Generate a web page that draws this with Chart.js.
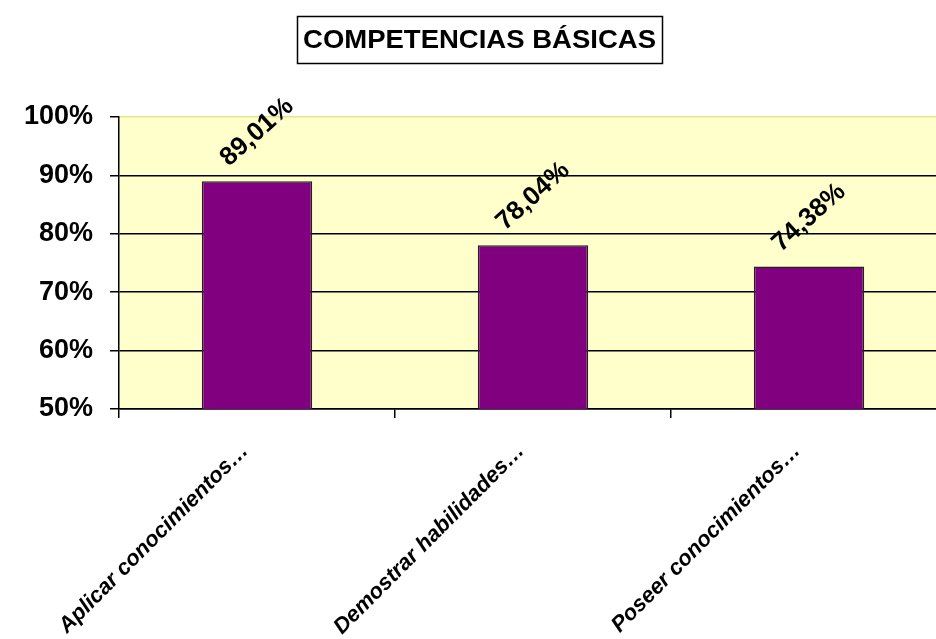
<!DOCTYPE html>
<html>
<head>
<meta charset="utf-8">
<title>Competencias básicas</title>
<script src="https://cdn.jsdelivr.net/npm/chart.js@4.4.0/dist/chart.umd.min.js"></script>
<style>
  html, body { margin: 0; padding: 0; background: #fff; overflow: hidden; width: 936px; height: 639px; }
  #wrap { position: relative; width: 947px; height: 639px; }
</style>
</head>
<body>
<div id="wrap"><canvas id="grafico" width="947" height="639"></canvas></div>
<script>
// Datos del gráfico
const titulo = 'COMPETENCIAS BÁSICAS';
const categorias = ['Aplicar conocimientos…', 'Demostrar habilidades…', 'Poseer conocimientos…'];
const valores = [89.01, 78.04, 74.38];
const ejeY = [50, 60, 70, 80, 90, 100];

const FUENTE = '"Liberation Sans", Arial, sans-serif';
Chart.defaults.font.family = FUENTE;
Chart.defaults.color = '#000';

// Fondo amarillo del área de trazado
const fondoPlugin = {
    id: 'fondo',
    beforeDraw(chart) {
        const { ctx, chartArea: a } = chart;
        ctx.save();
        ctx.fillStyle = '#FFFFCC';
        ctx.fillRect(a.left, a.top, a.right - a.left, a.bottom - a.top);
        ctx.restore();
    }
};

// Título dentro de un recuadro
const tituloPlugin = {
    id: 'tituloCaja',
    afterDraw(chart) {
        const ctx = chart.ctx;
        const cx = 479.5, cy = 40;
        ctx.save();
        ctx.strokeStyle = '#000';
        ctx.lineWidth = 1.5;
        ctx.strokeRect(297.5, 16.5, 365, 47);
        ctx.translate(cx, cy);
        ctx.scale(1.1, 1);
        ctx.font = 'bold 25px ' + FUENTE;
        ctx.fillStyle = '#000';
        ctx.textAlign = 'center';
        ctx.textBaseline = 'middle';
        ctx.fillText(titulo, 0, 1);
        ctx.restore();
    }
};

// Etiquetas de valor giradas sobre cada barra
const etiquetasPlugin = {
    id: 'etiquetas',
    afterDatasetsDraw(chart) {
        const ctx = chart.ctx;
        const meta = chart.getDatasetMeta(0);
        ctx.save();
        ctx.font = 'bold 26px ' + FUENTE;
        ctx.fillStyle = '#000';
        ctx.textAlign = 'center';
        ctx.textBaseline = 'middle';
        meta.data.forEach((barra, i) => {
            const texto = valores[i].toFixed(2).replace('.', ',') + '%';
            ctx.save();
            ctx.translate(barra.x, barra.y - 49);
            ctx.rotate(-42 * Math.PI / 180);
            ctx.fillText(texto, 0, 0);
            ctx.restore();
        });
        ctx.restore();
    }
};

new Chart(document.getElementById('grafico'), {
    type: 'bar',
    data: {
        labels: categorias,
        datasets: [{
            data: valores,
            backgroundColor: '#800080',
            borderColor: '#222',
            borderWidth: 1.5,
            barPercentage: 0.4,
            categoryPercentage: 1
        }]
    },
    options: {
        responsive: false,
        animation: false,
        devicePixelRatio: 1,
        layout: { padding: { top: 117, left: 0, right: 0, bottom: 0 } },
        plugins: {
            legend: { display: false },
            tooltip: { enabled: false },
            title: { display: false }
        },
        scales: {
            x: {
                afterFit(scale) { scale.height = 230; },
                border: { color: '#000', width: 1.5 },
                grid: { drawOnChartArea: false, tickLength: 9, color: '#000', lineWidth: 1.5 },
                ticks: {
                    minRotation: 45,
                    maxRotation: 45,
                    padding: 20,
                    labelOffset: -12,
                    color: '#000',
                    font: { size: 22, weight: 'bold', style: 'italic' }
                }
            },
            y: {
                min: ejeY[0],
                max: ejeY[ejeY.length - 1],
                afterFit(scale) { scale.width = 119; },
                afterBuildTicks(scale) { scale.ticks = ejeY.map(v => ({ value: v })); },
                border: { color: '#000', width: 1.5 },
                grid: {
                    color: c => (c.tick && c.tick.value === 100 ? '#E6E68A' : '#000'),
                    tickColor: '#000',
                    lineWidth: 1.5,
                    tickLength: 9
                },
                ticks: {
                    padding: 17,
                    color: '#000',
                    font: { size: 27, weight: 'bold' },
                    callback: v => v + '%'
                }
            }
        }
    },
    plugins: [fondoPlugin, tituloPlugin, etiquetasPlugin]
});
</script>
</body>
</html>
